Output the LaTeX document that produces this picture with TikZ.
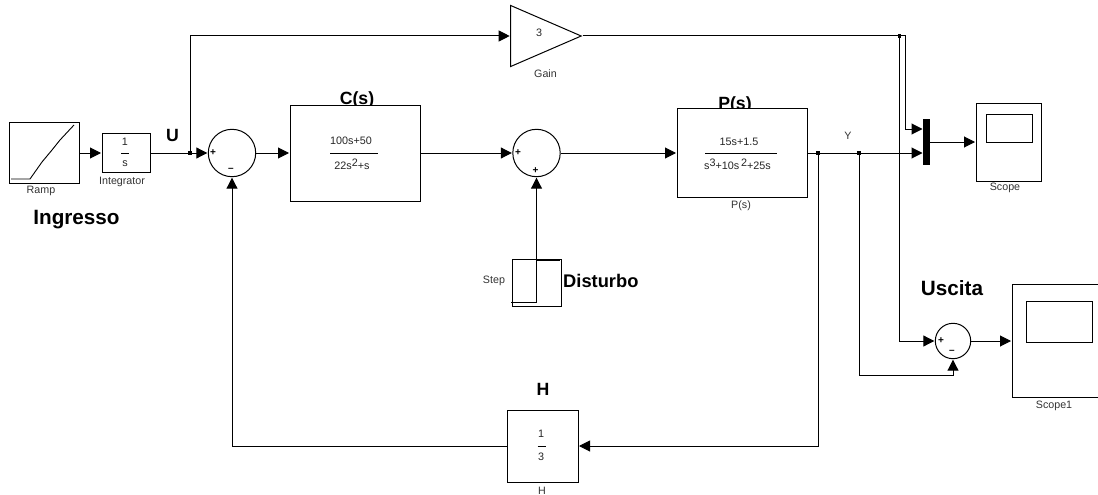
\documentclass[tikz,border=0pt]{standalone}
\usepackage{fontspec}
\setmainfont{Liberation Sans}
\usetikzlibrary{arrows.meta,shapes.geometric}
\tikzset{
  blockbox/.style={draw,fill=white,line width=1pt,rectangle,inner sep=0pt,font=\fontsize{10.6}{12.5}\selectfont,align=center},
  sumcirc/.style={draw,circle,line width=1pt,inner sep=0pt},
  small/.style={inner sep=0pt,font=\fontsize{10.7}{12}\selectfont,text=black!80},
  frac/.style={inner sep=0pt,font=\fontsize{10.8}{12}\selectfont,text=black!85},
  sign/.style={inner sep=0pt,font=\fontsize{10}{10}\selectfont\bfseries},
  bigA/.style={inner sep=0pt,font=\fontsize{20.7}{24}\selectfont\bfseries},
  bigB/.style={inner sep=0pt,font=\fontsize{17.7}{20}\selectfont\bfseries},
  wire/.style={line width=1pt},
  sig/.style={wire,-{Triangle[length=11pt,width=11pt]},shorten >=0.5pt},
  dot/.style={fill,rectangle,minimum size=3.5pt,inner sep=0pt}
}
\begin{document}
\begin{tikzpicture}[x=1pt,y=-1pt]
\useasboundingbox (0,0) rectangle (1098,495);
% titles hidden partly by the blocks
\node[bigB] (ctitle) at (357,99.5) {C(s)};
\node[bigB] (ptitle) at (735,104.5) {P(s)};
% blocks
\node[blockbox,minimum width=70pt,minimum height=61pt] (ramp) at (44,153) {};
\node[blockbox,minimum width=48pt,minimum height=39pt] (integ) at (126,153) {};
\node[sumcirc,minimum size=47.4pt] (sum1) at (232,153) {};
\node[blockbox,minimum width=130pt,minimum height=96pt] (cs) at (355,153) {};
\node[sumcirc,minimum size=47.4pt] (sum2) at (536.5,153) {};
\node[blockbox,minimum width=130pt,minimum height=89pt] (ps) at (742,153) {};
\node[draw,line width=1pt,isosceles triangle,isosceles triangle stretches,minimum width=61pt,minimum height=70.5pt,inner sep=0pt,anchor=apex] (gain) at (582.5,36) {};
\node[fill=black,rectangle,minimum width=7pt,minimum height=46pt,inner sep=0pt] (mux) at (926.5,142) {};
\node[blockbox,minimum width=65pt,minimum height=78pt] (scope) at (1008.5,142) {};
\node[draw,line width=0.9pt,rectangle,minimum width=46pt,minimum height=28pt,inner sep=0pt] (screen) at (1009,128) {};
\node[sumcirc,minimum size=35.4pt] (sum3) at (953,341) {};
\node[blockbox,minimum width=90pt,minimum height=113pt] (scopeone) at (1057,341) {};
\node[draw,line width=0.9pt,rectangle,minimum width=66pt,minimum height=41pt,inner sep=0pt] (screenone) at (1059,321.5) {};
\node[blockbox,minimum width=71pt,minimum height=72pt] (hb) at (542.5,446) {};
\node[blockbox,minimum width=49pt,minimum height=47pt] (stepb) at (536.5,282.5) {};
% block contents
\draw[wire,line width=0.9pt] (11,179) -- (30,179) -- (42,162) -- (52,150) -- (60,140) -- (74,125);
\node[frac] (i1) at (125,142) {1};
\draw[wire] (121,153) -- (129,153);
\node[frac] (i2) at (125,164) {s};
\node[frac] (c1) at (351,141) {100s+50};
\draw[wire] (330,153) -- (378,153);
\node[frac] (c2) at (352,164) {22s\raisebox{3pt}{2}+s};
\node[frac] (p1) at (739,142) {15s+1.5};
\draw[wire] (705,153) -- (777,153);
\node[frac] (p2) at (737.5,164) {s\raisebox{3pt}{3}+10s\,\raisebox{3pt}{2}+25s};
\node[frac] (gval) at (539,33) {3};
\node[frac] (h1) at (541,434) {1};
\draw[wire] (537.5,446) -- (545.5,446);
\node[frac] (h2) at (541,457) {3};
\draw[wire,line width=0.9pt] (511,302) -- (536,302) -- (536,260) -- (560,260);
% signs
\node[sign] (s1a) at (213,153) {+};
\node[sign] (s1b) at (231,170) {–};
\node[sign] (s2a) at (518,153) {+};
\node[sign] (s2b) at (535.5,170.5) {+};
\node[sign] (s3a) at (941,341) {+};
\node[sign] (s3b) at (952,352) {–};
% junction points
\coordinate (ju) at (190,153);
\coordinate (jg) at (190,36);
\coordinate (jy) at (818,153);
\coordinate (jz) at (859,153);
\coordinate (jt) at (899.5,36);
\coordinate (jc) at (905,36);
\coordinate (jd) at (905,129);
\coordinate (je) at (899.5,341);
\coordinate (jf) at (859,375);
\coordinate (jb) at (953,375);
\coordinate (ja) at (923,153);
\coordinate (jh) at (818,446);
\coordinate (jl) at (232,446);
\node[dot] (du) at (ju) {};
\node[dot] (dy) at (jy) {};
\node[dot] (dz) at (jz) {};
\node[dot] (dt) at (jt) {};
% connectors
\draw[sig] (ramp.east) -- (integ.west);
\draw[sig] (integ.east) -- (sum1.west);
\draw[sig] (ju) -- (jg) -- (gain.lower side);
\draw[sig] (sum1.east) -- (cs.west);
\draw[sig] (cs.east) -- (sum2.west);
\draw[sig] (sum2.east) -- (ps.west);
\draw[sig] (stepb.north) -- (sum2.south);
\draw[sig] (ps.east) -- (ja);
\draw[sig] (gain.apex) -- (jc) -- (jd) -- ++(18,0);
\draw[sig] (mux.east) -- (scope.west);
\draw[sig] (jt) -- (je) -- (sum3.west);
\draw[sig] (jz) -- (jf) -- (jb) -- (sum3.south);
\draw[sig] (sum3.east) -- (scopeone.west);
\draw[sig] (jy) -- (jh) -- (hb.east);
\draw[sig] (hb.west) -- (jl) -- (sum1.south);
% labels
\node[small] (lramp) at (41,191) {Ramp};
\node[small] (lint) at (122,182) {Integrator};
\node[small] (lgain) at (545.5,74) {Gain};
\node[small] (lp) at (741,206) {P(s)};
\node[small] (ly) at (848,136) {Y};
\node[small] (lscope) at (1005,188) {Scope};
\node[small] (lscopeone) at (1054,405.5) {Scope1};
\node[small] (lh) at (542,491) {H};
\node[small] (lstep) at (494,281) {Step};
\node[bigA] (ling) at (76.5,220) {Ingresso};
\node[bigA] (lusc) at (952,288) {Uscita};
\node[inner sep=0pt,font=\fontsize{18.3}{20}\selectfont\bfseries,anchor=west] (ldis) at (563,281) {Disturbo};
\node[bigB] (lu) at (172.5,135.5) {U};
\node[bigB] (lhh) at (543,389) {H};
\end{tikzpicture}
\end{document}
